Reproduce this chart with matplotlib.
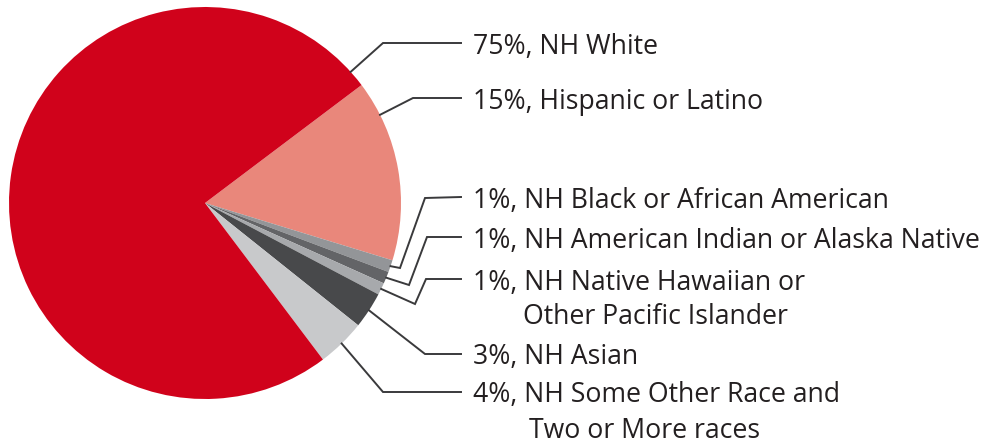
import matplotlib.pyplot as plt
import numpy as np

# shares in percent, in drawing order (clockwise from the Hispanic slice)
groups = ["Hispanic or Latino", "NH Black or African American",
          "NH American Indian or Alaska Native",
          "NH Native Hawaiian or\nOther Pacific Islander", "NH Asian",
          "NH Some Other Race and\nTwo or More races", "NH White"]
shares = [15, 1, 1, 1, 3, 4, 75]
colors = ["#e9877b", "#939598", "#636467", "#a7a9ac", "#48494b", "#c8c9cb", "#d0021b"]

W, H = 990, 445
fig = plt.figure(figsize=(W / 100, H / 100), dpi=100)
ax = fig.add_axes([0, 0, 1, 1])

cx, cy, r = 205, H - 203, 196
wedges, _ = ax.pie(shares, colors=colors, startangle=37, counterclock=False,
                   center=(cx, cy), radius=r, frame=True,
                   wedgeprops=dict(linewidth=0))
ax.set_xlim(0, W)
ax.set_ylim(0, H)
ax.axis("off")

# label layout: where along the wedge the leader starts, bends, text row
anchor = [0.81, 0.5, 0.5, 0.5, 0.5, 0.5, 0.0185]
bends = [[(413, 98)],
         [(400, 268), (425, 198)],
         [(409, 285), (427, 237)],
         [(415, 304), (426, 279)],
         [(425, 354)],
         [(383, 392)],
         [(383, 43)]]
text_y = [98, 197, 237, 279, 354, 392, 43]
line_end, text_x = 461, 473
fs = 19.2

for w, g, s, a, b, ty in zip(wedges, groups, shares, anchor, bends, text_y):
    th = np.radians(w.theta1 + a * (w.theta2 - w.theta1))
    xs = [cx + r * np.cos(th)] + [p[0] for p in b] + [line_end]
    ys = [cy + r * np.sin(th)] + [H - p[1] for p in b] + [H - ty]
    ax.plot(xs, ys, color="#3a3a3c", lw=1.4, solid_joinstyle="miter")
    lines = g.split("\n")
    ax.text(text_x, H - ty, f"{s}%, {lines[0]}", fontsize=fs,
            family="Open Sans", color="#231f20", va="center_baseline")
    if len(lines) > 1:
        ax.text(text_x + 50 + (6 if "Two" in lines[1] else 0), H - ty - 35,
                lines[1], fontsize=fs, family="Open Sans",
                color="#231f20", va="center_baseline")

fig.savefig("out.png", dpi=100)
